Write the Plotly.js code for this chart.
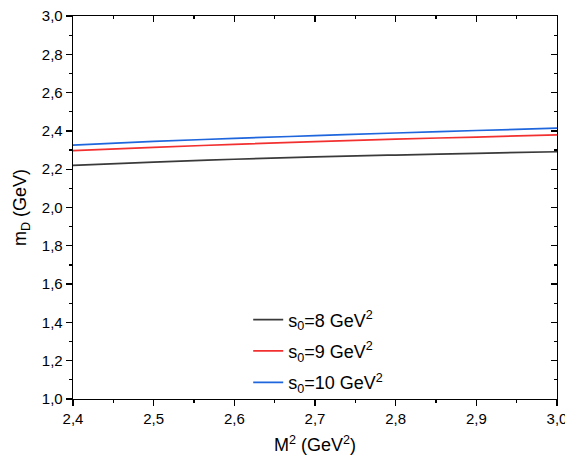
<!DOCTYPE html>
<html>
<head>
<meta charset="utf-8">
<script src="https://cdn.plot.ly/plotly-3.0.1.min.js"></script>
<style>html,body{margin:0;padding:0;background:#fff;}#chart{width:565px;height:461px;}</style>
</head>
<body>
<div id="chart"></div>
<script>
const M2 = [2.4, 2.5, 2.6, 2.7, 2.8, 2.9, 3.0];
const mD_s8 = [2.220, 2.237, 2.252, 2.264, 2.274, 2.283, 2.291];
const mD_s9 = [2.297, 2.314, 2.330, 2.344, 2.357, 2.368, 2.379];
const mD_s10 = [2.326, 2.345, 2.361, 2.375, 2.389, 2.402, 2.414];
const xTicks = [2.4, 2.5, 2.6, 2.7, 2.8, 2.9, 3.0];
const xTickLabels = ['2,4', '2,5', '2,6', '2,7', '2,8', '2,9', '3,0'];
const yTicks = [1.0, 1.2, 1.4, 1.6, 1.8, 2.0, 2.2, 2.4, 2.6, 2.8, 3.0];
const yTickLabels = ['1,0', '1,2', '1,4', '1,6', '1,8', '2,0', '2,2', '2,4', '2,6', '2,8', '3,0'];
const seriesNames = ['s<sub>0</sub>=8 GeV<sup>2</sup>', 's<sub>0</sub>=9 GeV<sup>2</sup>', 's<sub>0</sub>=10 GeV<sup>2</sup>'];
const seriesColors = ['#3a3a3a', '#f23030', '#1f66dd'];
const xTitle = 'M<sup>2</sup> (GeV<sup>2</sup>)';
const yTitle = 'm<sub>D</sub> (GeV)';

const FONT = 'Arial, "Liberation Sans", sans-serif';
const ys = [mD_s8, mD_s9, mD_s10];
const traces = ys.map((y, i) => ({
  x: M2, y: y, type: 'scatter', mode: 'lines', name: seriesNames[i],
  line: {color: seriesColors[i], width: 1.7, shape: 'spline'},
  legendgroup: 'g' + i
}));

const baseAxis = {
  showgrid: false, zeroline: false, showline: true, linecolor: '#000', linewidth: 1.3,
  ticks: 'outside', ticklen: 6, tickwidth: 1.3, tickcolor: '#000',
  tickfont: {family: FONT, size: 15, color: '#000'}, ticklabeloverflow: 'allow'
};

const layout = {
  width: 565, height: 461,
  margin: {l: 73, r: 8, t: 16, b: 62},
  paper_bgcolor: '#fff', plot_bgcolor: '#fff',
  font: {family: FONT, color: '#000'},
  showlegend: true,
  legend: {x: 0.362, xanchor: 'left', y: 0.255, yanchor: 'top', bgcolor: 'rgba(0,0,0,0)',
           font: {family: FONT, size: 18, color: '#000'}, tracegroupgap: 5, traceorder: 'grouped'},
  xaxis: Object.assign({}, baseAxis, {
    range: [2.4, 3.0], tickmode: 'array', tickvals: xTicks, ticktext: xTickLabels, mirror: true,
    minor: {tickmode: 'linear', tick0: 2.4, dtick: 0.05, ticklen: 3, tickwidth: 1.2, tickcolor: '#000', ticks: 'outside'},
    title: {text: xTitle, font: {family: FONT, size: 18, color: '#000'}, standoff: 12}
  }),
  yaxis: Object.assign({}, baseAxis, {
    range: [1.0, 3.0], tickmode: 'array', tickvals: yTicks, ticktext: yTickLabels, mirror: true,
    minor: {tickmode: 'linear', tick0: 1.0, dtick: 0.1, ticklen: 3, tickwidth: 1.2, tickcolor: '#000', ticks: 'outside'},
    title: {text: yTitle, font: {family: FONT, size: 18, color: '#000'}, standoff: 10}
  }),
  xaxis2: {
    overlaying: 'x', side: 'top', anchor: 'y', range: [2.4, 3.0], tickmode: 'array', tickvals: xTicks,
    showgrid: false, zeroline: false, showline: false, showticklabels: false,
    ticks: 'inside', ticklen: 6, tickwidth: 1.3, tickcolor: '#000',
    minor: {tickmode: 'linear', tick0: 2.4, dtick: 0.05, ticklen: 3, tickwidth: 1.2, tickcolor: '#000', ticks: 'inside'}
  },
  yaxis2: {
    overlaying: 'y', side: 'right', anchor: 'x', range: [1.0, 3.0], tickmode: 'array', tickvals: yTicks,
    showgrid: false, zeroline: false, showline: false, showticklabels: false,
    ticks: 'inside', ticklen: 6, tickwidth: 1.3, tickcolor: '#000',
    minor: {tickmode: 'linear', tick0: 1.0, dtick: 0.1, ticklen: 3, tickwidth: 1.2, tickcolor: '#000', ticks: 'inside'}
  }
};

traces.push({x: [], y: [], xaxis: 'x2', yaxis: 'y2', type: 'scatter', mode: 'lines',
             showlegend: false, hoverinfo: 'skip'});

Plotly.newPlot('chart', traces, layout, {displayModeBar: false, staticPlot: true});
</script>
</body>
</html>
